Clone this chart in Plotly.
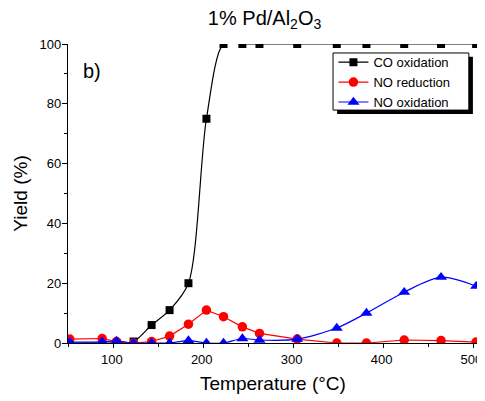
import plotly.graph_objects as go

temps = [51, 87, 103, 122, 142, 162, 183, 203, 222, 243, 262, 304, 348, 381, 423, 464, 503]
co_oxidation = [0, 0, 0, 0.5, 6, 11, 20, 75, 100, 100, 100, 100, 100, 100, 100, 100, 100]
no_reduction = [1.3, 1.5, 0.5, 0, 0.5, 2.3, 6.3, 11, 8.8, 5.4, 3.2, 1.3, 0, 0, 1, 0.8, 0.3]
no_oxidation = [0.3, 0.4, 0.7, 0, 0, 0, 0.8, 0, 0, 1.5, 1.0, 1.3, 5, 10, 17, 22, 19]

x_ticks = [100, 200, 300, 400, 500]
y_ticks = [0, 20, 40, 60, 80, 100]
x_range = [49, 504]
y_range = [0, 100]

font = "Liberation Sans, Arial, sans-serif"
tickfont = dict(family=font, size=13, color="black")

fig = go.Figure()
fig.add_trace(go.Scatter(x=temps, y=co_oxidation, name="CO oxidation", mode="lines+markers",
                         line=dict(color="black", width=1.2, shape="spline", smoothing=0.8),
                         marker=dict(symbol="square", size=8, color="black")))
fig.add_trace(go.Scatter(x=temps, y=no_reduction, name="NO reduction", mode="lines+markers",
                         line=dict(color="red", width=1.2),
                         marker=dict(symbol="circle", size=9.5, color="red")))
fig.add_trace(go.Scatter(x=temps, y=no_oxidation, name="NO oxidation", mode="lines+markers",
                         line=dict(color="blue", width=1.2, shape="spline", smoothing=0.8),
                         marker=dict(symbol="triangle-up", size=10.5, color="blue")))

common = dict(showline=True, linecolor="black", linewidth=1.3, showgrid=False, zeroline=False,
              automargin=False, tickcolor="black", tickwidth=1.2)

fig.update_layout(
    xaxis=dict(range=x_range, tickvals=x_ticks, ticks="outside", ticklen=4, ticklabeloverflow="allow",
               ticklabelshift=-2,
               minor=dict(ticks="outside", ticklen=3, dtick=50, tick0=0, tickcolor="black"),
               tickfont=tickfont, **common),
    yaxis=dict(range=y_range, tickvals=y_ticks, ticks="outside", ticklen=5, ticklabeloverflow="allow",
               ticklabelstandoff=-2,
               minor=dict(ticks="outside", ticklen=3, dtick=10, tick0=0, tickcolor="black"),
               tickfont=tickfont, **common),
    xaxis2=dict(range=x_range, tickvals=x_ticks, ticks="inside", ticklen=5, overlaying="x",
                side="top", anchor="y", showticklabels=False,
                minor=dict(ticks="inside", ticklen=3, dtick=50, tick0=0, tickcolor="black"), **common),
    yaxis2=dict(range=y_range, tickvals=y_ticks, ticks="inside", ticklen=5, overlaying="y",
                side="right", anchor="x", showticklabels=False,
                minor=dict(ticks="inside", ticklen=3, dtick=10, tick0=0, tickcolor="black"), **common),
)

# axis titles
fig.add_annotation(x=0.5, y=-0.135, xref="paper", yref="paper", text="Temperature (°C)", showarrow=False,
                   xanchor="center", yanchor="middle", font=dict(family=font, size=19, color="black"))
fig.add_annotation(x=-0.117, y=0.5, xref="paper", yref="paper", text="Yield (%)", showarrow=False,
                   textangle=-90, xanchor="center", yanchor="middle", font=dict(family=font, size=19, color="black"))

fig.add_annotation(x=0.033, y=0.91, xref="paper", yref="paper", text="b)", showarrow=False,
                   xanchor="left", yanchor="middle", font=dict(family=font, size=20, color="black"))

# legend frame with drop shadow
fig.add_shape(type="rect", xref="paper", yref="paper", x0=0.658, x1=0.990, y0=0.766, y1=0.957,
              fillcolor="black", line=dict(width=0), layer="above")
fig.add_shape(type="rect", xref="paper", yref="paper", x0=0.648, x1=0.980, y0=0.779, y1=0.970,
              fillcolor="white", line=dict(color="black", width=1), layer="above")

fig.update_layout(
    width=485, height=401,
    margin=dict(l=60, r=16, t=36, b=66),
    paper_bgcolor="white", plot_bgcolor="white",
    title=dict(text="1% Pd/Al<sub>2</sub>O<sub>3</sub>", x=0.529, xanchor="center", y=0.9755, yanchor="middle",
               font=dict(family=font, size=20, color="black")),
    legend=dict(x=0.649, y=0.872, xanchor="left", yanchor="middle", bgcolor="rgba(0,0,0,0)",
                borderwidth=0, font=dict(family=font, size=13, color="black"),
                tracegroupgap=0, itemwidth=30),
    showlegend=True,
)

fig.write_html("out.html")
